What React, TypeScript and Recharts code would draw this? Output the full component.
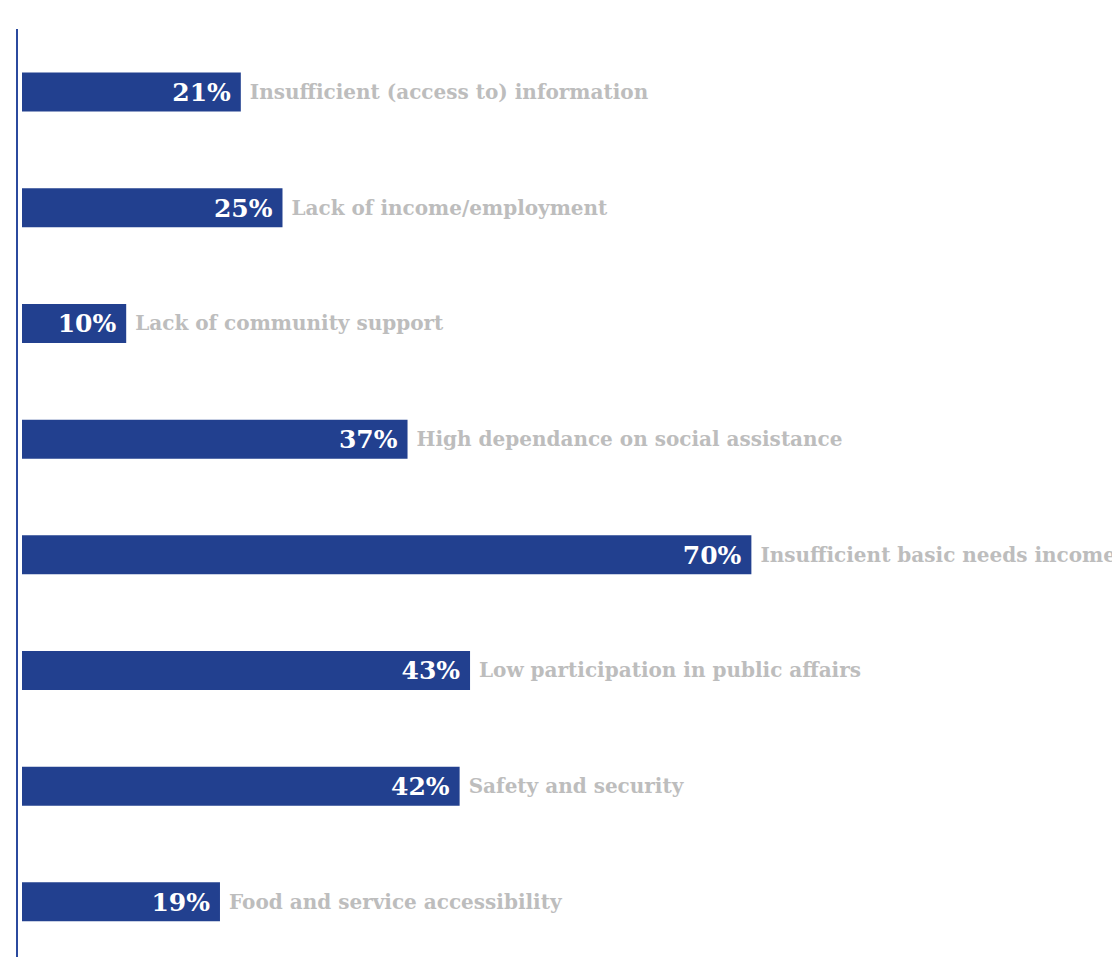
import React from 'react';
import { BarChart, Bar, XAxis, YAxis, LabelList } from 'recharts';

const categories = [
  'Insufficient (access to) information',
  'Lack of income/employment',
  'Lack of community support',
  'High dependance on social assistance',
  'Insufficient basic needs income',
  'Low participation in public affairs',
  'Safety and security',
  'Food and service accessibility',
];
const values = [21, 25, 10, 37, 70, 43, 42, 19];
const valueLabels = ['21%', '25%', '10%', '37%', '70%', '43%', '42%', '19%'];

const data = categories.map((name, i) => ({ name, value: values[i], label: valueLabels[i] }));

const FONT = '"DejaVu Serif", Georgia, serif';

const renderLabels = (props: any) => {
  const { x, y, width, height, index } = props;
  const cy = y + height / 2;
  return (
    <g>
      <text
        x={x + width - 10}
        y={cy}
        dy={9}
        textAnchor="end"
        fill="#ffffff"
        fontFamily={FONT}
        fontWeight="bold"
        fontSize={25}
      >
        {valueLabels[index]}
      </text>
      <text
        x={x + width + 9}
        y={cy}
        dy={7}
        textAnchor="start"
        fill="#bdbdbd"
        fontFamily={FONT}
        fontWeight="bold"
        fontSize={20}
      >
        {categories[index]}
      </text>
    </g>
  );
};

export default function App() {
  return (
    <div style={{ width: 1112, height: 949, overflow: 'hidden' }}>
      <BarChart
        width={1112}
        height={952}
        data={data}
        layout="vertical"
        margin={{ top: 21, right: 8, bottom: 0, left: 8 }}
        barSize={39}
      >
        <XAxis type="number" hide domain={[-0.48, 104.61]} allowDataOverflow />
        <YAxis
          type="category"
          dataKey="name"
          width={1}
          tick={false}
          tickLine={false}
          axisLine={{ stroke: '#2b4a9e', strokeWidth: 2 }}
          padding={{ top: 5.6, bottom: 0 }}
        />
        <Bar dataKey="value" fill="#22408f" isAnimationActive={false}>
          <LabelList dataKey="value" content={renderLabels} />
        </Bar>
      </BarChart>
    </div>
  );
}
